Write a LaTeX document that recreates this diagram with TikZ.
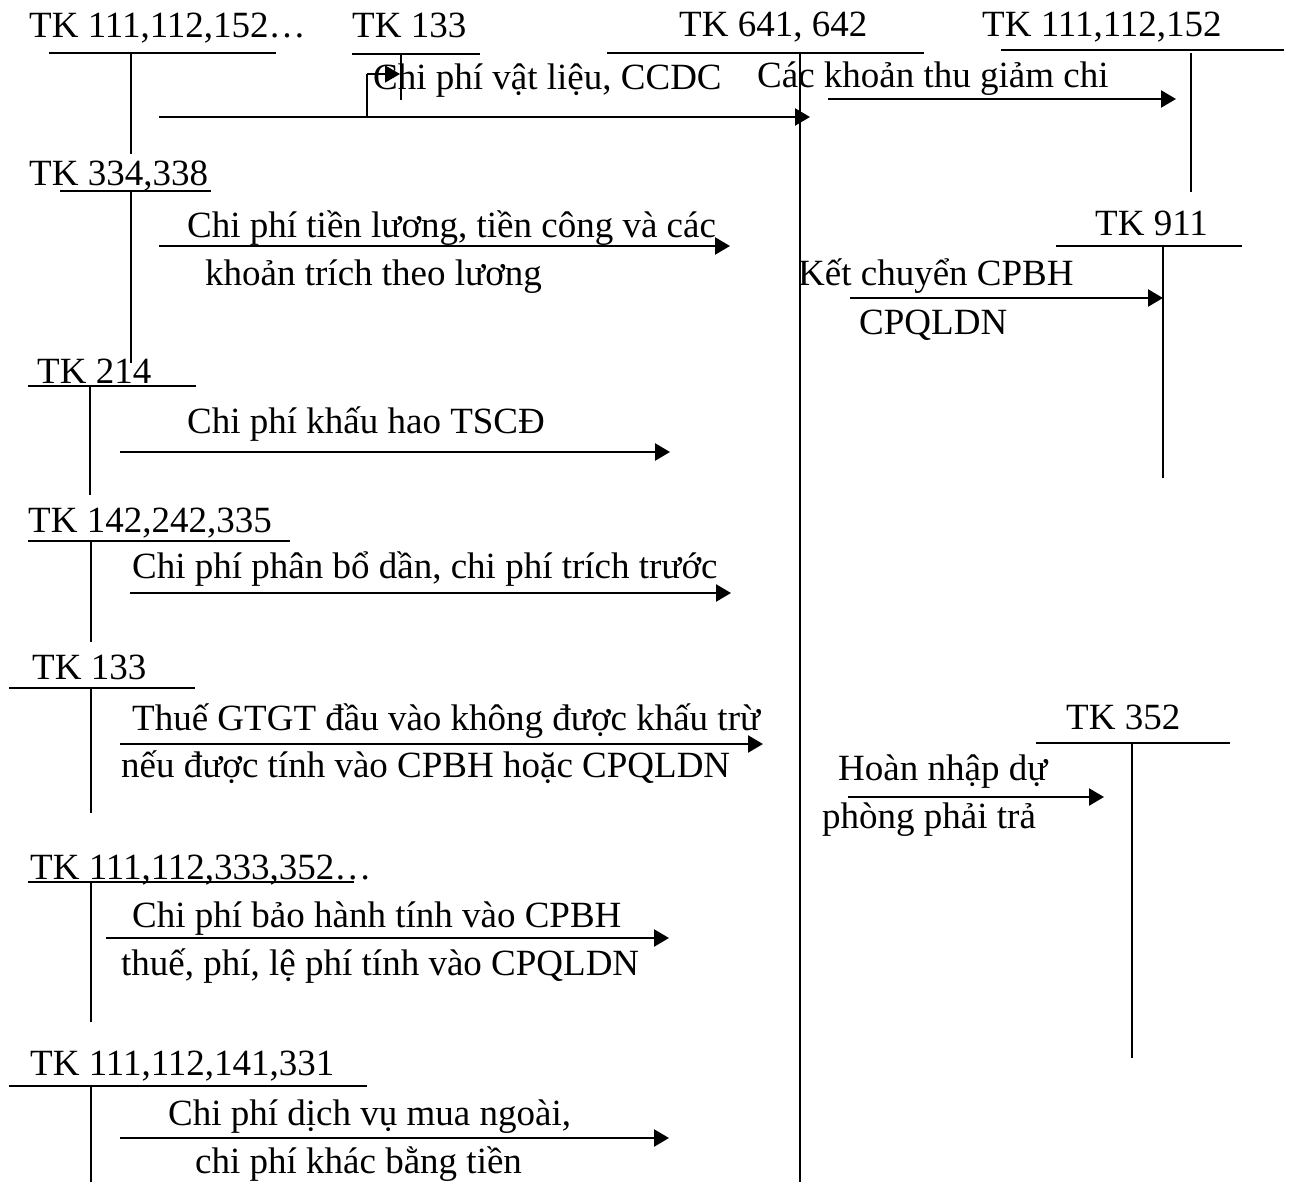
\documentclass[tikz,border=0pt]{standalone}
\usepackage{fontspec}
\setmainfont{Liberation Serif}
\usetikzlibrary{arrows.meta}
\newcommand{\tkfont}{\fontsize{37}{41}\selectfont}
\tikzset{
  lbl/.style={anchor=base west, inner sep=0pt, font=\tkfont},
  acct/.style={line width=1.5pt},
  flow/.style={line width=2.4pt, -{Triangle[length=15pt,width=17pt]}},
}
\begin{document}
\begin{tikzpicture}[x=1pt,y=-1pt]
\useasboundingbox (0,0) rectangle (1289,1182);
% ---- account titles ----
\node[lbl] (t1) at (29,38) {TK 111,112,152…};
\node[lbl] (t2) at (352,38) {TK 133};
\node[lbl] (t3) at (679,37) {TK 641, 642};
\node[lbl] (t4) at (982,37) {TK 111,112,152};
\node[lbl] (t5) at (29,186) {TK 334,338};
\node[lbl] (t6) at (37,383) {TK 214};
\node[lbl] (t7) at (1095,236) {TK 911};
\node[lbl] (t8) at (28,532) {TK 142,242,335};
\node[lbl] (t9) at (32,679) {TK 133};
\node[lbl] (t10) at (1066,729) {TK 352};
\node[lbl] (t11) at (30,879) {TK 111,112,333,352…};
\node[lbl] (t12) at (30,1075) {TK 111,112,141,331};
% ---- flow labels ----
\node[lbl] (l1) at (373,90) {Chi phí vật liệu, CCDC};
\node[lbl] (l2) at (757,88) {Các khoản thu giảm chi};
\node[lbl] (l3) at (187,237) {Chi phí tiền lương, tiền công và các};
\node[lbl] (l4) at (205,285) {khoản trích theo lương};
\node[lbl] (l5) at (187,433) {Chi phí khấu hao TSCĐ};
\node[lbl] (l6) at (798,285) {Kết chuyển CPBH};
\node[lbl] (l7) at (859,334) {CPQLDN};
\node[lbl] (l8) at (132,578) {Chi phí phân bổ dần, chi phí trích trước};
\node[lbl] (l9) at (132,730) {Thuế GTGT đầu vào không được khấu trừ};
\node[lbl] (l10) at (121,777) {nếu được tính vào CPBH hoặc CPQLDN};
\node[lbl] (l11) at (838,780) {Hoàn nhập dự};
\node[lbl] (l12) at (822,828) {phòng phải trả};
\node[lbl] (l13) at (132,927) {Chi phí bảo hành tính vào CPBH};
\node[lbl] (l14) at (121,975) {thuế, phí, lệ phí tính vào CPQLDN};
\node[lbl] (l15) at (168,1125) {Chi phí dịch vụ mua ngoài,};
\node[lbl] (l16) at (195,1173) {chi phí khác bằng tiền};
% ---- T accounts ----
\draw[acct] (49,53) -- (276,53) (131,53) -- (131,154);
\draw[acct] (352,54) -- (480,54) (401,54) -- (401,100);
\draw[acct] (607,53) -- (924,53) (800,53) -- (800,1182);
\draw[acct] (1001,50) -- (1284,50) (1191,53) -- (1191,192);
\draw[acct] (60,191) -- (211,191) (131,191) -- (131,363);
\draw[acct] (28,386) -- (196,386) (90,386) -- (90,495);
\draw[acct] (1056,246) -- (1242,246) (1163,246) -- (1163,478);
\draw[acct] (28,541) -- (290,541) (91,541) -- (91,642);
\draw[acct] (9,688) -- (195,688) (91,688) -- (91,813);
\draw[acct] (1036,743) -- (1230,743) (1132,743) -- (1132,1058);
\draw[acct] (28,882) -- (354,882) (91,882) -- (91,1022);
\draw[acct] (9,1086) -- (367,1086) (91,1086) -- (91,1182);
% ---- connector end points ----
\coordinate (a1s) at (159,117); \coordinate (a1e) at (810,117);
\coordinate (a1b) at (367,117); \coordinate (a1c) at (367,74); \coordinate (a1t) at (400,74);
\coordinate (a2s) at (828,99);  \coordinate (a2e) at (1176,99);
\coordinate (a3s) at (159,246); \coordinate (a3e) at (730,246);
\coordinate (a4s) at (120,452); \coordinate (a4e) at (670,452);
\coordinate (a5s) at (850,298); \coordinate (a5e) at (1163,298);
\coordinate (a6s) at (130,593); \coordinate (a6e) at (731,593);
\coordinate (a7s) at (120,744); \coordinate (a7e) at (763,744);
\coordinate (a8s) at (848,797); \coordinate (a8e) at (1104,797);
\coordinate (a9s) at (106,938); \coordinate (a9e) at (669,938);
\coordinate (a10s) at (120,1138); \coordinate (a10e) at (669,1138);
% ---- connectors ----
\draw[flow] (a1s) -- (a1e);
\draw[acct] (a1b) -- (a1c);
\draw[flow, line width=1.5pt] (a1c) -- (a1t);
\draw[flow] (a2s) -- (a2e);
\draw[flow] (a3s) -- (a3e);
\draw[flow] (a4s) -- (a4e);
\draw[flow] (a5s) -- (a5e);
\draw[flow] (a6s) -- (a6e);
\draw[flow] (a7s) -- (a7e);
\draw[flow] (a8s) -- (a8e);
\draw[flow] (a9s) -- (a9e);
\draw[flow] (a10s) -- (a10e);
\end{tikzpicture}
\end{document}
